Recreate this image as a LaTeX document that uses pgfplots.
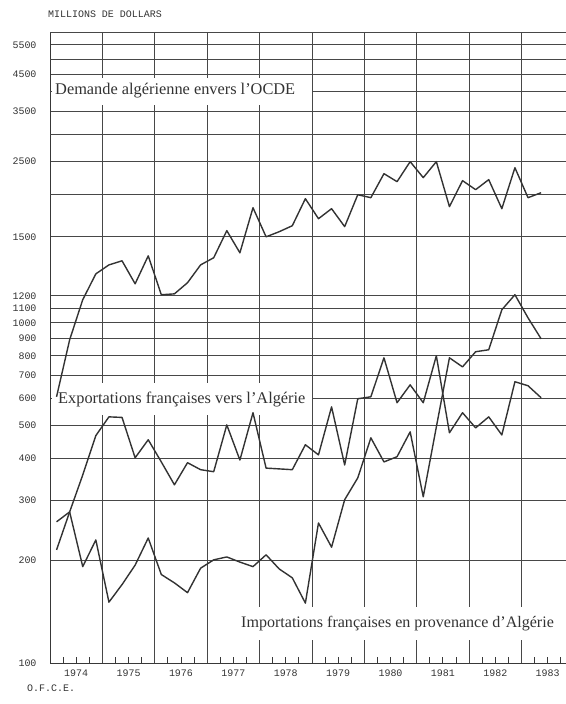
\documentclass[border=0pt]{standalone}
\usepackage{fontspec}
\setmainfont{Liberation Serif}
\newfontfamily\mono{Liberation Mono}
\usepackage{pgfplots}
\pgfplotsset{compat=1.18}
\newcommand{\tickfont}{\mono\fontsize{10}{12}\selectfont\color{black!80}}
\pgfplotsset{dline/.style={black!80, line width=1.4bp, mark=none, line join=round}}
\begin{document}
\begin{tikzpicture}
\begin{axis}[
  scale only axis, width=516bp, height=631bp,
  xmin=1974, xmax=1983.85,
  ymin=100, ymax=6000,
  y coord trafo/.code={\begingroup\pgfkeys{/pgf/fpu=true,/pgf/fpu/output format=fixed}\pgfmathparse{ln(#1)/ln(10)}\let\Lv\pgfmathresult\pgfmathparse{\Lv+0.0765*min(max((\Lv-3.0792)/0.0969,0),1)}\xdef\trafores{\pgfmathresult}\endgroup\let\pgfmathresult\trafores},
  axis x line*=bottom, axis y line*=left,
  ytick={100,200,300,400,500,600,700,800,900,1000,1100,1200,1500,2500,3500,4500,5500},
  yticklabels={100,200,300,400,500,600,700,800,900,1000,1100,1200,1500,2500,3500,4500,5500},
  extra y ticks={2000,3000,4000,5000,6000},
  extra y tick labels={},
  extra y tick style={grid=major},
  ytick style={draw=none},
  xtick={1974.5,1975.5,1976.5,1977.5,1978.5,1979.5,1980.5,1981.5,1982.5,1983.5},
  xticklabels={1974,1975,1976,1977,1978,1979,1980,1981,1982,1983},
  extra x ticks={1975,1976,1977,1978,1979,1980,1981,1982,1983},
  extra x tick labels={},
  extra x tick style={grid=major},
  xtick style={draw=none},
  ymajorgrids=true, xmajorgrids=false,
  major grid style={black!72, line width=0.8bp},
  axis line style={black!78, line width=0.9bp},
  yticklabel style={font=\tickfont, xshift=-10bp},
  xticklabel style={font=\tickfont, yshift=-3bp},
]
% white backgrounds of the labels
\fill[white] (rel axis cs:0.003,0.9271) rectangle (rel axis cs:0.5078,0.8843);
\fill[white] (rel axis cs:0.003,0.4437) rectangle (rel axis cs:0.5078,0.3930);
\fill[white] (rel axis cs:0.3643,0.0887) rectangle (rel axis cs:1,0.0365);
% quarter tick marks on the time axis
\pgfplotsinvokeforeach{1974.25,1974.5,1974.75,1975.25,1975.5,1975.75,1976.25,1976.5,1976.75,1977.25,1977.5,1977.75,1978.25,1978.5,1978.75,1979.25,1979.5,1979.75,1980.25,1980.5,1980.75,1981.25,1981.5,1981.75,1982.25,1982.5,1982.75,1983.25,1983.5,1983.75}{
  \draw[black!78, line width=0.9bp] (axis cs:#1,100) -- ++(0pt,6bp);
}

% Demande algerienne envers l'OCDE
\addplot[dline] coordinates {
(1974.125,606) (1974.375,891) (1974.625,1169) (1974.875,1304)
(1975.125,1349) (1975.375,1370) (1975.625,1256) (1975.875,1396)
(1976.125,1205) (1976.375,1209) (1976.625,1261) (1976.875,1349)
(1977.125,1386) (1977.375,1564) (1977.625,1412) (1977.875,1827)
(1978.125,1500) (1978.375,1553) (1978.625,1617) (1978.875,1942)
(1979.125,1696) (1979.375,1815) (1979.625,1607) (1979.875,1995)
(1980.125,1955) (1980.375,2300) (1980.625,2179) (1980.875,2495)
(1981.125,2239) (1981.375,2495) (1981.625,1840) (1981.875,2194)
(1982.125,2064) (1982.375,2209) (1982.625,1815) (1982.875,2395)
(1983.125,1955) (1983.375,2022)
};
% Exportations francaises vers l'Algerie
\addplot[dline] coordinates {
(1974.125,215) (1974.375,278) (1974.625,357) (1974.875,466)
(1975.125,529) (1975.375,527) (1975.625,401) (1975.875,453)
(1976.125,390) (1976.375,334) (1976.625,388) (1976.875,370)
(1977.125,365) (1977.375,501) (1977.625,395) (1977.875,544)
(1978.125,374) (1978.375,372) (1978.625,370) (1978.875,438)
(1979.125,409) (1979.375,566) (1979.625,382) (1979.875,598)
(1980.125,606) (1980.375,789) (1980.625,582) (1980.875,657)
(1981.125,582) (1981.375,800) (1981.625,475) (1981.875,544)
(1982.125,491) (1982.375,529) (1982.625,468) (1982.875,671)
(1983.125,653) (1983.375,602)
};
% Importations francaises en provenance d'Algerie
\addplot[dline] coordinates {
(1974.125,260) (1974.375,278) (1974.625,192) (1974.875,230)
(1975.125,151) (1975.375,170) (1975.625,194) (1975.875,233)
(1976.125,182) (1976.375,172) (1976.625,161) (1976.875,190)
(1977.125,201) (1977.375,205) (1977.625,198) (1977.875,192)
(1978.125,208) (1978.375,189) (1978.625,178) (1978.875,150)
(1979.125,258) (1979.375,219) (1979.625,302) (1979.875,350)
(1980.125,459) (1980.375,390) (1980.625,404) (1980.875,478)
(1981.125,308) (1981.375,494) (1981.625,789) (1981.875,742)
(1982.125,822) (1982.375,833) (1982.625,1092) (1982.875,1205)
(1983.125,1034) (1983.375,897)
};

\node[anchor=west, inner sep=0pt, font=\fontsize{16.4}{18}\selectfont, text=black!80] at (rel axis cs:0.0097,0.9065) {Demande algérienne envers l'OCDE};
\node[anchor=west, inner sep=0pt, font=\fontsize{16.4}{18}\selectfont, text=black!80] at (rel axis cs:0.0155,0.4168) {Exportations françaises vers l'Algérie};
\node[anchor=west, inner sep=0pt, font=\fontsize{16.1}{18}\selectfont, text=black!80] at (rel axis cs:0.3702,0.0618) {Importations françaises en provenance d'Algérie};
\end{axis}
\node[anchor=west, inner sep=0pt, font=\tickfont] at ([shift={(-2bp,18bp)}]current axis.north west) {MILLIONS DE DOLLARS};
\node[anchor=west, inner sep=0pt, font=\tickfont] at ([shift={(-23bp,-25bp)}]current axis.south west) {O.F.C.E.};
\pgfresetboundingbox
\path[use as bounding box] ([shift={(-50bp,-41bp)}]current axis.south west) rectangle ([shift={(0bp,32bp)}]current axis.north east);
\end{tikzpicture}
\end{document}
